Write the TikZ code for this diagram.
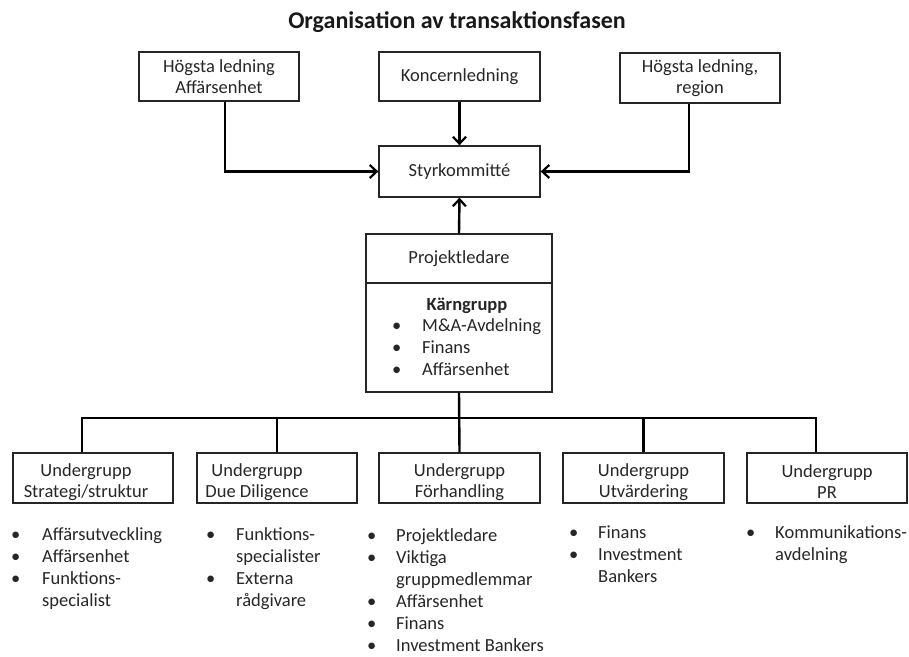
\documentclass[tikz,border=0pt]{standalone}
\usepackage{fontspec}
\setmainfont{Carlito}
\usetikzlibrary{arrows.meta}
\begin{document}
\begin{tikzpicture}[x=1pt,y=-1pt,
  box/.style={draw=black!85,line width=1.3pt,inner sep=0pt,minimum width=160pt,minimum height=50pt,align=center,font=\fontsize{18.5}{20.5}\selectfont,text=black!85},
  lbl/.style={inner sep=0pt,align=center,font=\fontsize{18.5}{21}\selectfont,text=black!85},
  lst/.style={inner sep=0pt,anchor=base west,font=\fontsize{18.5}{22}\selectfont,text=black!85},
  conn/.style={line width=2.4pt,draw=black},
  arr/.style={conn,-{Straight Barb[length=7pt,width=13pt,line width=2.2pt]}}]
\useasboundingbox (0,0) rectangle (909,656);
% title
\node[font=\bfseries\fontsize{24}{28}\selectfont,anchor=base,inner sep=0pt,text=black!90] (title) at (457,28) {Organisation av transaktionsfasen};
% top row
\node[box,minimum height=49pt] (hl) at (219,76.5) {Högsta ledning\\Affärsenhet};
\node[box,minimum width=161pt,minimum height=49pt] (kl) at (459.5,76.5) {Koncernledning};
\node[box] (hr) at (700,78) {Högsta ledning,\\region};
\node[box,minimum width=161pt,minimum height=51pt] (sk) at (459.5,171.5) {Styrkommitté};
% project leader and core group
\node[box,minimum width=186pt,minimum height=49pt] (pl) at (459,258.5) {Projektledare};
\node[box,minimum width=186pt,minimum height=109pt] (kg) at (459,337.5) {};
\node[lbl,anchor=base] (kgt) at (467,310) {\textbf{Kärngrupp}};
\node[lst] (kgl) at (392,331) {\begin{tabular}[t]{@{}p{30pt}@{}l@{}}•&M\&A-Avdelning\\•&Finans\\•&Affärsenhet\end{tabular}};
% subgroups
\node[box] (s1) at (93,478) {};
\node[box] (s2) at (277,478) {};
\node[box,minimum width=161pt] (s3) at (459.5,478) {};
\node[box,minimum width=161pt] (s4) at (643.5,478) {};
\node[box] (s5) at (827,478) {};
\node[lbl] (t1) at (86,482) {Undergrupp\\Strategi/struktur};
\node[lbl] (t2) at (257,482) {Undergrupp\\Due Diligence};
\node[lbl] (t3) at (459.5,482) {Undergrupp\\Förhandling};
\node[lbl] (t4) at (643.5,482) {Undergrupp\\Utvärdering};
\node[lbl] (t5) at (827,482) {Undergrupp\\PR};
% lists
\node[lst] (l1) at (11,540) {\begin{tabular}[t]{@{}p{31pt}@{}l@{}}•&Affärsutveckling\\•&Affärsenhet\\•&Funktions-\\&specialist\end{tabular}};
\node[lst] (l2) at (206,540) {\begin{tabular}[t]{@{}p{30pt}@{}l@{}}•&Funktions-\\&specialister\\•&Externa\\&rådgivare\end{tabular}};
\node[lst] (l3) at (367,541) {\begin{tabular}[t]{@{}p{29pt}@{}l@{}}•&Projektledare\\•&Viktiga\\&gruppmedlemmar\\•&Affärsenhet\\•&Finans\\•&Investment Bankers\end{tabular}};
\node[lst] (l4) at (569,538) {\begin{tabular}[t]{@{}p{29pt}@{}l@{}}•&Finans\\•&Investment\\&Bankers\end{tabular}};
\node[lst] (l5) at (746,538) {\begin{tabular}[t]{@{}p{29pt}@{}l@{}}•&Kommunikations-\\&avdelning\end{tabular}};
% connectors
\draw[arr] ([xshift=6pt]hl.south) |- (sk.west);
\draw[arr] (kl.south) -- (sk.north);
\draw[arr] ([xshift=-11pt]hr.south) |- (sk.east);
\draw[arr] (pl.north) -- (sk.south);
\coordinate (bus) at (459,418);
\draw[conn] (kg.south) -- (s3.north);
\draw[conn] ([xshift=-11pt]s1.north) -- ([xshift=-11pt]s1.north |- bus) -- ([xshift=-11pt]s5.north |- bus) -- ([xshift=-11pt]s5.north);
\draw[conn] (s2.north) -- (s2.north |- bus);
\draw[conn] (s4.north) -- (s4.north |- bus);
\end{tikzpicture}
\end{document}
